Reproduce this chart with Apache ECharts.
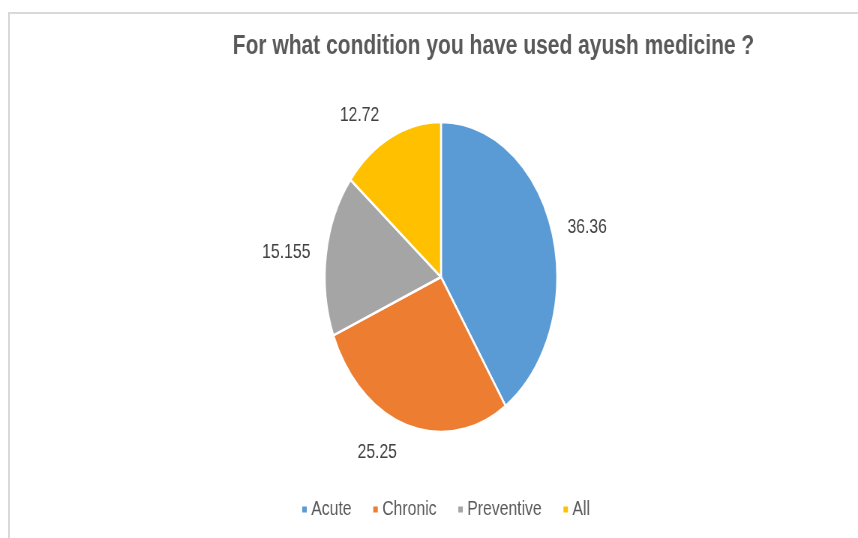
<!DOCTYPE html>
<html>
<head>
<meta charset="utf-8">
<script src="https://cdn.jsdelivr.net/npm/echarts@6/dist/echarts.min.js"></script>
<style>
  html, body { margin: 0; padding: 0; background: #fff; overflow: hidden; }
  #wrap { position: relative; width: 858px; height: 538px; overflow: hidden; }
  #frame {
    position: absolute; left: 8px; top: 12px; width: 860px; height: 540px;
    border-top: 2px solid #d9d9d9; border-left: 2px solid #d9d9d9;
  }
  /* the source picture is squeezed sideways, so draw wide and squeeze */
  #main {
    position: absolute; left: 0; top: 0; width: 1144px; height: 538px;
    transform: scaleX(0.75); transform-origin: left top;
  }
</style>
</head>
<body>
<div id="wrap">
  <div id="frame"></div>
  <div id="main"></div>
</div>
<script>
// data
const categories = ['Acute', 'Chronic', 'Preventive', 'All']
const values = [36.36, 25.25, 15.155, 12.72]
const colors = ['#5B9BD5', '#ED7D31', '#A5A5A5', '#FFC000']
// how far each label sits out from the pie edge
const labelGaps = [16, 28, 16, 24]

let myChart = echarts.init(document.getElementById('main'), null, { renderer: 'canvas' })

const option = {
  animation: false,
  title: {
    text: 'For what condition you have used ayush medicine ?',
    left: 653,
    top: 27,
    textAlign: 'center',
    textStyle: {
      fontFamily: 'Liberation Sans',
      fontWeight: 'bold',
      fontSize: 28,
      color: '#595959'
    }
  },
  legend: {
    left: 396,
    top: 494,
    icon: 'rect',
    itemWidth: 8,
    itemHeight: 8,
    itemGap: 27,
    textStyle: {
      fontFamily: 'Liberation Sans',
      fontSize: 21,
      color: '#595959'
    },
    data: categories
  },
  series: [
    {
      type: 'pie',
      center: [588, 277],
      radius: 155,
      startAngle: 90,
      clockwise: true,
      color: colors,
      itemStyle: { borderColor: '#fff', borderWidth: 2.5 },
      label: {
        show: true,
        position: 'outside',
        fontFamily: 'Liberation Sans',
        fontSize: 21,
        color: '#404040',
        formatter: p => String(values[p.dataIndex])
      },
      labelLine: { show: false, length: 16, length2: 0 },
      emphasis: { disabled: true },
      data: categories.map((name, i) => ({
        name: name,
        value: values[i],
        labelLine: { show: false, length: labelGaps[i], length2: 0 }
      }))
    }
  ]
}

myChart.setOption(option)
</script>
</body>
</html>
